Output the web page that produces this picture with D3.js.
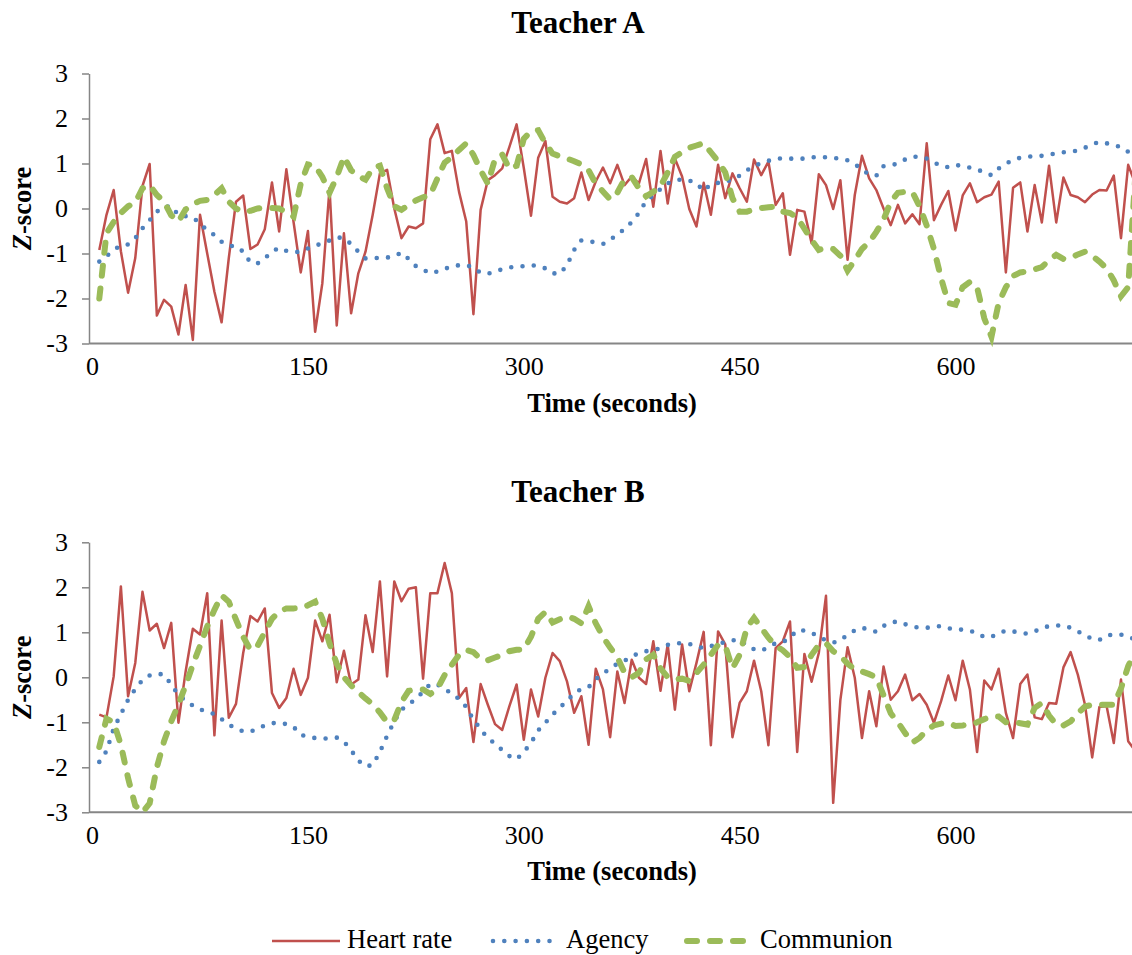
<!DOCTYPE html>
<html>
<head>
<meta charset="utf-8">
<title>Teacher A / Teacher B</title>
<script src="https://d3js.org/d3.v7.min.js"></script>
<style>
    body { margin: 0; background: #fff; }
    svg { display: block; }
    text { font-family: "Liberation Serif", "Times New Roman", serif; fill: #000; }
</style>
</head>
<body>
<div id="chart"></div>
<script>
// one sample every 5 seconds
var timeSec = d3.range(5, 730, 5);
var yTicks = [-3, -2, -1, 0, 1, 2, 3];
var xTicks = [0, 150, 300, 450, 600];
var seriesNames = ["Heart rate", "Agency", "Communion"];
var panelTitles = ["Teacher A", "Teacher B"];

var heartA = [
    -0.92, -0.14, 0.41, -0.95, -1.87, -1.1, 0.5, 0.99, -2.38, -2.03,
    -2.18, -2.8, -1.7, -2.92, -0.14, -1.0, -1.85, -2.53, -1.1, 0.15,
    0.29, -0.9, -0.8, -0.46, 0.58, -0.51, 0.87, -0.3, -1.42, -0.5,
    -2.74, -1.66, 0.45, -2.6, -0.55, -2.33, -1.44, -0.96, -0.14, 0.78,
    0.86, 0.0, -0.66, -0.4, -0.44, -0.33, 1.54, 1.87, 1.23, 1.28,
    0.37, -0.29, -2.35, -0.03, 0.63, 0.74, 0.89, 1.37, 1.87, 0.9,
    -0.16, 1.13, 1.5, 0.26, 0.15, 0.11, 0.23, 0.8, 0.19, 0.6,
    0.91, 0.56, 0.97, 0.52, 0.71, 0.56, 1.1, 0.04, 1.28, 0.11,
    1.11, 0.71, -0.01, -0.4, 0.57, -0.14, 0.97, 0.23, 0.78, 0.45,
    0.15, 1.09, 0.74, 1.04, 0.08, 0.34, -1.03, -0.03, -0.07, -0.77,
    0.76, 0.52, -0.01, 0.63, -1.14, 0.3, 1.17, 0.67, 0.41, 0.0,
    -0.37, 0.08, -0.33, -0.13, -0.35, 1.45, -0.26, 0.08, 0.39, -0.49,
    0.29, 0.56, 0.14, 0.25, 0.31, 0.6, -1.42, 0.46, 0.58, -0.51,
    0.52, -0.31, 0.95, -0.31, 0.69, 0.3, 0.25, 0.14, 0.31, 0.41,
    0.4, 0.73, -0.66, 0.97, 0.55
];
var agencyA = [
    -1.18, -1.06, -0.92, -0.82, -0.8, -0.66, -0.44, -0.26, -0.07, 0.03,
    0.06, -0.15, -0.17, -0.2, -0.33, -0.49, -0.59, -0.74, -0.83, -0.84,
    -0.96, -1.2, -1.22, -1.11, -0.96, -0.87, -0.94, -0.97, -0.96, -0.89,
    -0.83, -0.77, -0.71, -0.64, -0.66, -0.79, -0.96, -1.11, -1.11, -1.09,
    -1.09, -1.06, -0.98, -1.12, -1.28, -1.36, -1.44, -1.4, -1.34, -1.29,
    -1.26, -1.26, -1.31, -1.43, -1.45, -1.4, -1.35, -1.31, -1.29, -1.28,
    -1.26, -1.28, -1.33, -1.44, -1.45, -1.26, -0.92, -0.71, -0.72, -0.76,
    -0.79, -0.7, -0.57, -0.46, -0.3, -0.1, 0.17, 0.29, 0.43, 0.56,
    0.62, 0.65, 0.62, 0.56, 0.39, 0.54, 0.57, 0.58, 0.66, 0.73,
    0.85, 0.94, 1.01, 1.06, 1.11, 1.11, 1.11, 1.1, 1.11, 1.14,
    1.14, 1.14, 1.12, 1.11, 1.07, 0.99, 0.86, 0.76, 0.73, 0.94,
    0.96, 1.0, 1.09, 1.15, 1.15, 1.11, 1.03, 0.94, 0.92, 0.97,
    0.94, 0.91, 0.87, 0.8, 0.74, 0.89, 1.0, 1.07, 1.13, 1.15,
    1.16, 1.17, 1.19, 1.23, 1.25, 1.26, 1.29, 1.35, 1.43, 1.48,
    1.45, 1.4, 1.37, 1.26, 1.11
];
var communionA = [
    -2.0, -0.55, -0.3, -0.1, 0.05, 0.13, 0.45, 0.52, 0.3, 0.15,
    -0.15, -0.29, -0.02, 0.1, 0.17, 0.19, 0.3, 0.45, 0.15, 0.0,
    -0.08, -0.05, 0.0, 0.02, 0.01, 0.0, -0.08, -0.18, 0.55, 0.98,
    0.95, 0.7, 0.35, 0.7, 1.15, 0.85, 0.72, 0.64, 0.9, 0.95,
    0.45, 0.05, -0.03, 0.08, 0.18, 0.25, 0.3, 0.67, 1.02, 1.14,
    1.3, 1.45, 1.19, 0.85, 0.55, 1.1, 1.2, 0.88, 0.95, 1.55,
    1.72, 1.74, 1.45, 1.22, 1.16, 1.11, 1.05, 0.98, 0.85, 0.55,
    0.38, 0.2, 0.35, 0.65, 0.7, 0.45, 0.27, 0.37, 0.5, 0.8,
    1.15, 1.25, 1.35, 1.4, 1.45, 1.25, 1.05, 0.8, 0.23, -0.07,
    -0.07, -0.02, 0.01, 0.03, 0.04, -0.07, -0.1, -0.2, -0.45, -0.7,
    -0.92, -0.87, -0.9, -1.05, -1.38, -1.15, -0.9, -0.75, -0.52, -0.25,
    0.15, 0.35, 0.37, 0.37, 0.05, -0.38, -0.9, -1.55, -2.1, -2.14,
    -1.75, -1.63, -1.75, -2.44, -2.85, -2.1, -1.75, -1.5, -1.42, -1.4,
    -1.35, -1.3, -1.15, -1.03, -1.12, -1.1, -1.02, -0.96, -1.05, -1.18,
    -1.33, -1.6, -1.95, -1.75, 0.75
];

var heartB = [
    -0.83, -0.89, 0.02, 2.02, -0.42, 0.32, 1.9, 1.04, 1.19, 0.65,
    1.21, -1.01, 0.13, 1.08, 0.95, 1.87, -1.29, 1.26, -0.9, -0.59,
    0.54, 1.36, 1.24, 1.53, -0.35, -0.68, -0.46, 0.19, -0.39, -0.01,
    1.26, 0.8, 1.39, -0.11, 0.59, -0.16, -0.05, 1.38, 0.56, 2.13,
    0.02, 2.13, 1.69, 1.97, 2.0, -0.03, 1.87, 1.87, 2.54, 1.87,
    -0.46, -0.24, -1.44, -0.15, -0.61, -1.04, -1.17, -0.64, -0.16, -1.39,
    -0.27, -0.87, -0.01, 0.54, 0.36, -0.09, -0.79, -0.42, -1.5, 0.19,
    -0.27, -1.33, 0.13, -0.57, 0.39, -0.01, -0.15, 0.8, -0.3, 0.73,
    -0.72, 0.73, -0.31, 0.32, 1.01, -1.51, 1.02, 0.73, -1.33, -0.57,
    -0.31, 0.37, -0.31, -1.51, 0.65, 0.8, 1.24, -1.66, 0.52, -0.1,
    0.54, 1.81, -2.79, -0.5, 0.67, -0.01, -1.35, -0.31, -1.09, 0.24,
    -0.5, -0.31, 0.06, -0.51, -0.37, -0.61, -1.01, -0.53, 0.04, -0.51,
    0.37, -0.27, -1.66, -0.07, -0.27, 0.19, -0.79, -1.35, -0.15, 0.06,
    -0.89, -0.93, -0.57, -0.59, 0.22, 0.56, 0.06, -0.61, -1.78, -0.66,
    -0.64, -1.46, -0.05, -1.42, -1.64
];
var agencyB = [
    -1.88, -1.64, -1.14, -0.82, -0.5, -0.26, -0.06, 0.04, 0.08, 0.06,
    -0.16, -0.39, -0.52, -0.63, -0.72, -0.75, -0.82, -0.93, -1.05, -1.14,
    -1.2, -1.21, -1.14, -1.07, -1.02, -1.01, -1.04, -1.1, -1.28, -1.32,
    -1.35, -1.36, -1.36, -1.34, -1.43, -1.62, -1.85, -1.98, -1.95, -1.66,
    -1.3, -0.98, -0.72, -0.6, -0.48, -0.32, -0.15, -0.16, -0.25, -0.37,
    -0.48, -0.66, -0.94, -1.15, -1.36, -1.47, -1.62, -1.75, -1.82, -1.66,
    -1.46, -1.18, -1.01, -0.83, -0.67, -0.53, -0.35, -0.26, -0.22, -0.04,
    0.08, 0.2, 0.3, 0.37, 0.46, 0.54, 0.58, 0.61, 0.64, 0.72,
    0.75, 0.76, 0.74, 0.7, 0.64, 0.69, 0.75, 0.78, 0.82, 0.83,
    0.72, 0.62, 0.59, 0.67, 0.76, 0.78, 0.88, 1.05, 1.04, 0.99,
    0.9, 0.82, 0.77, 0.82, 0.95, 1.04, 1.1, 1.06, 1.01, 1.14,
    1.22, 1.24, 1.18, 1.13, 1.1, 1.1, 1.12, 1.14, 1.09, 1.06,
    1.06, 1.03, 0.99, 0.89, 0.9, 0.97, 1.04, 1.02, 0.99, 0.97,
    1.02, 1.09, 1.14, 1.15, 1.15, 1.1, 1.02, 0.94, 0.85, 0.83,
    0.93, 0.95, 0.95, 0.89, 0.85
];
var communionB = [
    -1.55, -0.92, -1.0, -1.5, -2.24, -2.85, -3.0, -2.8, -2.0, -1.42,
    -0.98, -0.6, -0.18, 0.28, 0.7, 1.13, 1.5, 1.82, 1.68, 1.28,
    0.9, 0.61, 0.7, 1.0, 1.3, 1.46, 1.53, 1.53, 1.54, 1.6,
    1.68, 1.3, 0.75, 0.3, 0.0, -0.18, -0.33, -0.47, -0.6, -0.78,
    -1.0, -0.95, -0.55, -0.3, -0.27, -0.27, -0.37, -0.25, 0.05, 0.28,
    0.5, 0.61, 0.56, 0.4, 0.38, 0.44, 0.5, 0.58, 0.61, 0.62,
    0.9, 1.3, 1.45, 1.22, 1.29, 1.35, 1.3, 1.2, 1.58, 1.2,
    0.9, 0.66, 0.45, 0.1, 0.0, 0.1, 0.4, 0.5, 0.2, 0.0,
    -0.05, -0.03, -0.08, 0.1, 0.28, 0.5, 0.72, 0.7, 0.2, 0.5,
    1.1, 1.32, 1.1, 0.88, 0.7, 0.6, 0.45, 0.21, 0.23, 0.5,
    0.72, 0.76, 0.58, 0.48, 0.3, 0.18, 0.13, 0.07, 0.0, -0.4,
    -0.8, -1.0, -1.24, -1.45, -1.35, -1.17, -1.07, -1.03, -1.01, -1.08,
    -1.07, -1.05, -1.0, -0.93, -0.87, -0.87, -1.0, -1.0, -1.02, -1.05,
    -0.68, -0.57, -0.85, -1.05, -1.07, -0.98, -0.8, -0.65, -0.61, -0.61,
    -0.61, -0.61, -0.25, 0.25, 0.55
];

var colors = ["#C0504D", "#4F81BD", "#9BBB59"];
var axisGray = "#868686";
var width = 1132, height = 955;

var svg = d3.select("#chart")
    .append("svg")
    .attr("width", width)
    .attr("height", height);

svg.append("rect")
    .attr("width", width)
    .attr("height", height)
    .attr("fill", "#fff");

var x = d3.scaleLinear().domain([0, 600]).range([92.1, 955.5]);
var axisX = 89;

// stroke styles for the three series: solid, round dot, dash
function styleSeries(sel, i) {
    sel.attr("fill", "none").attr("stroke", colors[i]);
    if (i === 0) {
        sel.attr("stroke-width", 2.5).attr("stroke-linejoin", "round");
    } else if (i === 1) {
        sel.attr("stroke-width", 4.6)
            .attr("stroke-linecap", "round")
            .attr("stroke-dasharray", "0 11.3");
    } else {
        sel.attr("stroke-width", 6)
            .attr("stroke-linecap", "round")
            .attr("stroke-dasharray", "10 13");
    }
    return sel;
}

function drawPanel(top, title, series) {
    var y = d3.scaleLinear().domain([-3, 3]).range([top + 270, top]);
    var g = svg.append("g");

    // y axis
    var yAxis = g.append("g")
        .attr("transform", "translate(" + axisX + ",0)")
        .call(d3.axisLeft(y)
            .tickValues(yTicks)
            .tickSize(7)
            .tickSizeOuter(0)
            .tickPadding(14)
            .tickFormat(function(d) { return String(d); }));
    yAxis.selectAll("path, line").attr("stroke", axisGray).attr("stroke-width", 1.5);
    yAxis.selectAll("text")
        .attr("font-family", "Liberation Serif")
        .attr("font-size", 26)
        .attr("fill", "#000");

    // x axis labels (the category axis carries no tick marks)
    var xAxis = g.append("g")
        .attr("transform", "translate(0," + y(-3) + ")")
        .call(d3.axisBottom(x)
            .tickValues(xTicks)
            .tickSize(0)
            .tickPadding(13.5)
            .tickFormat(function(d) { return String(d); }));
    xAxis.select(".domain").remove();
    xAxis.selectAll("text")
        .attr("font-family", "Liberation Serif")
        .attr("font-size", 26)
        .attr("fill", "#000");

    g.append("line")
        .attr("x1", axisX).attr("x2", width)
        .attr("y1", y(-3)).attr("y2", y(-3))
        .attr("stroke", axisGray)
        .attr("stroke-width", 2);

    var line = d3.line()
        .x(function(d, i) { return x(timeSec[i]); })
        .y(function(d) { return y(d); });

    series.forEach(function(values, i) {
        g.append("path")
            .datum(values)
            .attr("d", line)
            .call(styleSeries, i);
    });

    g.append("text")
        .attr("x", 578)
        .attr("y", top - 40.5)
        .attr("text-anchor", "middle")
        .attr("font-size", 31)
        .attr("font-weight", "bold")
        .text(title);

    g.append("text")
        .attr("x", 612)
        .attr("y", y(-3) + 68)
        .attr("text-anchor", "middle")
        .attr("font-size", 26.5)
        .attr("font-weight", "bold")
        .text("Time (seconds)");

    var yl = g.append("text")
        .attr("transform", "translate(31," + y(0) + ") rotate(-90)")
        .attr("text-anchor", "middle")
        .attr("font-size", 26.5)
        .attr("font-weight", "bold");
    yl.append("tspan").attr("font-style", "italic").text("Z");
    yl.append("tspan").text("-score");
}

drawPanel(73.5, panelTitles[0], [heartA, agencyA, communionA]);
drawPanel(542.3, panelTitles[1], [heartB, agencyB, communionB]);

// legend
var legendItems = [
    { x1: 272, x2: 340, tx: 347 },
    { x1: 493, x2: 557, tx: 566 },
    { x1: 687, x2: 750, tx: 760 }
];
var legend = svg.append("g");
legendItems.forEach(function(d, i) {
    legend.append("line")
        .attr("x1", d.x1).attr("x2", d.x2)
        .attr("y1", 941).attr("y2", 941)
        .call(styleSeries, i);
    legend.append("text")
        .attr("x", d.tx)
        .attr("y", 948)
        .attr("font-size", 26.5)
        .text(seriesNames[i]);
});
</script>
</body>
</html>
